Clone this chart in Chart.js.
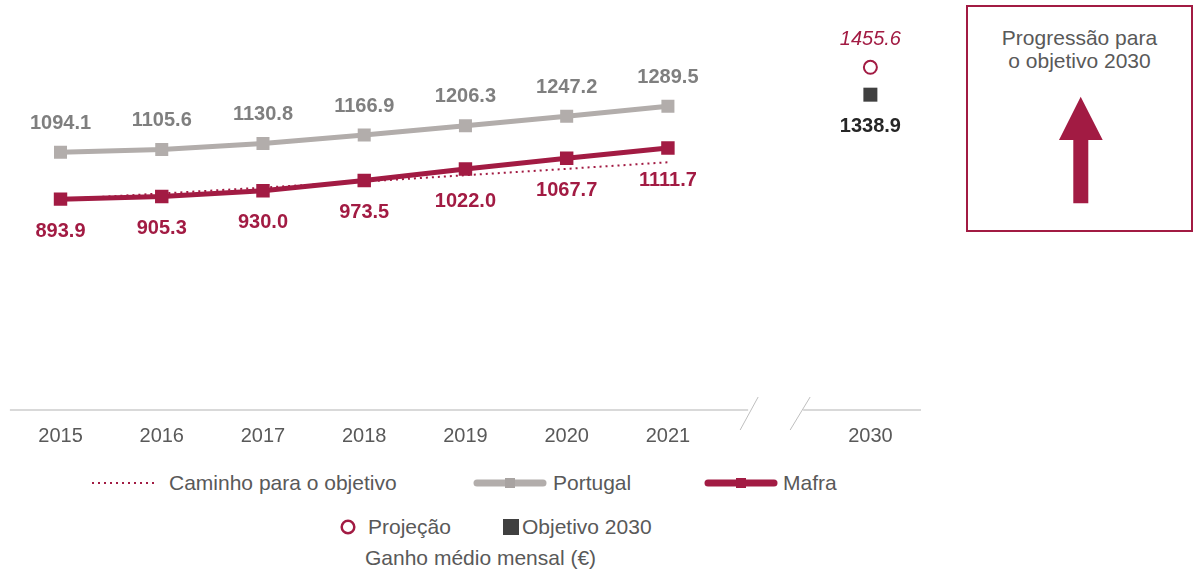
<!DOCTYPE html>
<html lang="pt">
<head>
    <meta charset="UTF-8">
    <title>Ganho médio mensal - Mafra</title>
    <script src="https://cdn.jsdelivr.net/npm/chart.js@4.4.1/dist/chart.umd.min.js"></script>
    <style>
        body {
            margin: 0;
            background: #fff;
            font-family: 'Liberation Sans', Arial, sans-serif;
            color: #595959;
        }
        .page { position: relative; width: 1195px; height: 577px; overflow: hidden; }
        .chart-box { position: absolute; left: 0; top: 0; width: 960px; height: 467px; }
        .legend-item { position: absolute; font-size: 21px; line-height: 24px; white-space: nowrap; }
        .progress-box {
            position: absolute;
            left: 966px; top: 5px;
            width: 223px; height: 223px;
            border: 2px solid #a21b43;
        }
        .progress-box p {
            margin: 20px 0 0;
            text-align: center;
            font-size: 21px;
            line-height: 22.5px;
            color: #595959;
        }
    </style>
</head>
<body>
<div class="page">
    <div class="chart-box"><canvas id="ganhoChart"></canvas></div>

    <!-- legenda -->
    <svg class="legend-item" style="left:88px; top:478px" width="74" height="10">
        <line x1="4" y1="5" x2="70" y2="5" stroke="#a21b43" stroke-width="2" stroke-dasharray="2 4"/>
    </svg>
    <div class="legend-item" style="left:169px; top:471px">Caminho para o objetivo</div>

    <svg class="legend-item" style="left:470px; top:476px" width="80" height="14">
        <line x1="7" y1="7" x2="73" y2="7" stroke="#b2adab" stroke-width="7" stroke-linecap="round"/>
        <rect x="35" y="2" width="10" height="10" fill="#a8a3a1"/>
    </svg>
    <div class="legend-item" style="left:553px; top:471px">Portugal</div>

    <svg class="legend-item" style="left:701px; top:476px" width="80" height="14">
        <line x1="7" y1="7" x2="73" y2="7" stroke="#a21b43" stroke-width="7" stroke-linecap="round"/>
        <rect x="35" y="2" width="10" height="10" fill="#a21b43"/>
    </svg>
    <div class="legend-item" style="left:783px; top:471px">Mafra</div>

    <svg class="legend-item" style="left:338px; top:517px" width="20" height="20">
        <circle cx="10" cy="10" r="6.3" fill="#fff" stroke="#a21b43" stroke-width="2.5"/>
    </svg>
    <div class="legend-item" style="left:368px; top:515px">Projeção</div>

    <svg class="legend-item" style="left:503px; top:519px" width="16" height="16">
        <rect x="0" y="0" width="16" height="16" fill="#404040"/>
    </svg>
    <div class="legend-item" style="left:522px; top:515px">Objetivo 2030</div>

    <div class="legend-item" style="left:365px; top:546px">Ganho médio mensal (€)</div>

    <!-- caixa de progressão -->
    <div class="progress-box">
        <p>Progressão para<br>o objetivo 2030</p>
    </div>
    <svg style="position:absolute; left:1050px; top:90px" width="60" height="120">
        <polygon fill="#a21b43"
                 points="30.7,6.7 52.7,50 38.3,50 38.3,113.3 23.3,113.3 23.3,50 9,50"/>
    </svg>
</div>

<script>
    // Anos (a posição vazia abre espaço para o corte do eixo)
    const years = ['2015', '2016', '2017', '2018', '2019', '2020', '2021', '', '2030'];

    // Ganho médio mensal (€)
    const portugal = [1094.1, 1105.6, 1130.8, 1166.9, 1206.3, 1247.2, 1289.5, null, null];
    const mafra = [893.9, 905.3, 930.0, 973.5, 1022.0, 1067.7, 1111.7, null, null];
    const caminho = [893.9, 918, 943, 969, 996, 1023, 1051, null, null];
    const projecao = [null, null, null, null, null, null, null, null, 1455.6];
    const objetivo = [null, null, null, null, null, null, null, null, 1338.9];

    const CRIMSON = '#a21b43';
    const GREY_LINE = '#b2adab';

    // Rótulos de valor junto a cada ponto (por índice de dataset)
    const labelStyles = {
        0: { font: 'bold 20px "Liberation Sans", Arial', color: CRIMSON, dy: 32 },
        1: { font: 'bold 20px "Liberation Sans", Arial', color: '#7f7f7f', dy: -29 },
        3: { font: 'italic 20px "Liberation Sans", Arial', color: CRIMSON, dy: -28 },
        4: { font: 'bold 20px "Liberation Sans", Arial', color: '#262626', dy: 32 }
    };

    const valueLabels = {
        id: 'valueLabels',
        afterDatasetsDraw(chart) {
            const ctx = chart.ctx;
            ctx.save();
            ctx.textAlign = 'center';
            ctx.textBaseline = 'middle';
            chart.data.datasets.forEach((ds, i) => {
                const st = labelStyles[i];
                if (!st) return;
                const meta = chart.getDatasetMeta(i);
                meta.data.forEach((pt, j) => {
                    const v = ds.data[j];
                    if (v == null) return;
                    ctx.font = st.font;
                    ctx.fillStyle = st.color;
                    ctx.fillText(v.toFixed(1), pt.x, pt.y + st.dy);
                });
            });
            ctx.restore();
        }
    };

    // Eixo horizontal com corte entre 2021 e 2030
    const brokenAxis = {
        id: 'brokenAxis',
        beforeDatasetsDraw(chart) {
            const ctx = chart.ctx;
            const area = chart.chartArea;
            const xs = chart.scales.x;
            const gap = xs.getPixelForValue(7);
            const y = area.bottom + 1;
            ctx.save();
            ctx.strokeStyle = '#d9d9d9';
            ctx.lineWidth = 2;
            ctx.beginPath();
            ctx.moveTo(area.left, y);
            ctx.lineTo(gap - 21, y);
            ctx.moveTo(gap + 34, y);
            ctx.lineTo(area.right, y);
            ctx.stroke();
            ctx.strokeStyle = '#bfbfbf';
            ctx.lineWidth = 1;
            ctx.beginPath();
            ctx.moveTo(gap - 29, y + 20);
            ctx.lineTo(gap - 11, y - 13);
            ctx.moveTo(gap + 21, y + 20);
            ctx.lineTo(gap + 41, y - 13);
            ctx.stroke();
            ctx.restore();
        }
    };

    new Chart(document.getElementById('ganhoChart'), {
        type: 'line',
        data: {
            labels: years,
            datasets: [
                {
                    label: 'Mafra',
                    data: mafra,
                    borderColor: CRIMSON,
                    backgroundColor: CRIMSON,
                    borderWidth: 5,
                    pointStyle: 'rect',
                    pointRadius: 9.5,
                    pointBorderWidth: 0,
                    order: 1
                },
                {
                    label: 'Portugal',
                    data: portugal,
                    borderColor: GREY_LINE,
                    backgroundColor: GREY_LINE,
                    borderWidth: 5,
                    pointStyle: 'rect',
                    pointRadius: 9.2,
                    pointBorderWidth: 0,
                    order: 2
                },
                {
                    label: 'Caminho para o objetivo',
                    data: caminho,
                    borderColor: CRIMSON,
                    borderWidth: 2,
                    borderDash: [2, 4],
                    pointRadius: 0,
                    order: 3
                },
                {
                    label: 'Projeção',
                    data: projecao,
                    showLine: false,
                    pointStyle: 'circle',
                    pointRadius: 6.5,
                    pointBorderWidth: 2,
                    borderColor: CRIMSON,
                    backgroundColor: '#fff',
                    order: 0
                },
                {
                    label: 'Objetivo 2030',
                    data: objetivo,
                    showLine: false,
                    pointStyle: 'rect',
                    pointRadius: 9.9,
                    pointBorderWidth: 0,
                    backgroundColor: '#404040',
                    borderColor: '#404040',
                    order: 0
                }
            ]
        },
        options: {
            responsive: true,
            maintainAspectRatio: false,
            animation: false,
            spanGaps: false,
            layout: { padding: { left: 9, right: 39, top: 7, bottom: 12 } },
            plugins: {
                legend: { display: false },
                tooltip: { enabled: false }
            },
            scales: {
                x: {
                    offset: true,
                    grid: { display: false, offset: true },
                    border: { display: false },
                    ticks: {
                        color: '#595959',
                        font: { family: '"Liberation Sans", Arial', size: 20 },
                        padding: 7,
                        autoSkip: false,
                        maxRotation: 0
                    }
                },
                y: {
                    display: false,
                    min: 0,
                    max: 1700
                }
            }
        },
        plugins: [brokenAxis, valueLabels]
    });
</script>
</body>
</html>
